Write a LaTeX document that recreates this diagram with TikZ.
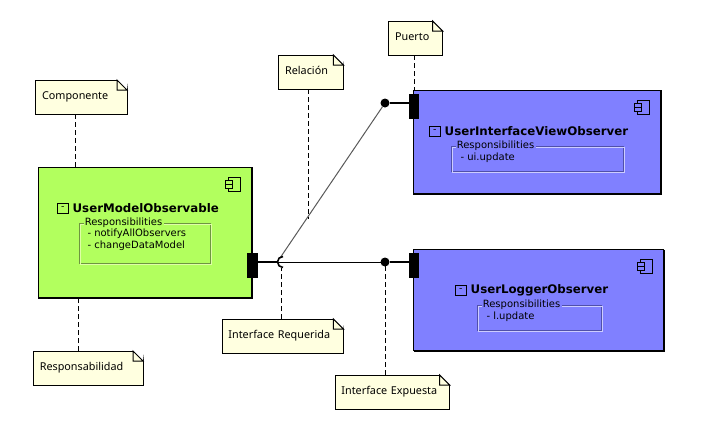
\documentclass[tikz,border=0pt]{standalone}
\usepackage{fontspec}
\setmainfont{Noto Sans}
\newfontfamily\boxfont{DejaVu Sans}
\usepackage{tikz}
\usetikzlibrary{positioning, calc}
\definecolor{notefill}{RGB}{255, 255, 224}
\definecolor{modelgreen}{RGB}{178, 255, 94}
\definecolor{viewblue}{RGB}{128, 128, 255}
\definecolor{etchgreen}{RGB}{110, 150, 64}
\definecolor{etchblue}{RGB}{80, 80, 170}
\definecolor{lightgreen}{RGB}{222, 255, 165}
\definecolor{lightblue}{RGB}{205, 205, 255}
% little sheet with a folded corner
\newcommand{\foldcorner}[1]{
  \fill[white] ([xshift=-7.5pt]#1.north east) -- ([xshift=1pt,yshift=1pt]#1.north east) -- ([yshift=-7.5pt]#1.north east) -- cycle;
  \draw[line width=0.75pt] ([xshift=-7.5pt]#1.north east) -- ([yshift=-7.5pt]#1.north east)
    -- ([xshift=-7.5pt,yshift=-7.5pt]#1.north east) -- cycle;
}
% component symbol, upper left corner at #1, filled with #2
\newcommand{\compicon}[2]{
  \begin{scope}[shift={(#1)}, line width=0.75pt]
    \draw (3,0) rectangle (15,14);
    \filldraw[fill=#2] (0,3) rectangle (7,7);
    \filldraw[fill=#2] (0,7) rectangle (7,11);
  \end{scope}
}
\begin{document}
\begin{tikzpicture}[x=0.75pt, y=-0.75pt, line width=0.75pt,
    notebox/.style={draw, fill=notefill, font=\fontsize{8.1}{9}\selectfont, anchor=north west, inner sep=0pt, outer sep=0pt, align=left, text height=6pt, text depth=2.8pt},
    compbox/.style={draw, anchor=north west, inner sep=0pt, outer sep=0pt},
    portbox/.style={fill=black, anchor=north west, inner sep=0pt, outer sep=0pt, minimum height=18.75pt},
    ball/.style={circle, fill=black, inner sep=0pt, outer sep=0pt, minimum size=6.75pt},
    minusbox/.style={draw, anchor=north west, inner sep=0pt, outer sep=0pt, minimum size=8pt, font=\boxfont\fontsize{7}{7}\selectfont},
    title/.style={anchor=west, inner sep=0pt, font=\boxfont\fontsize{8.85}{11}\selectfont\bfseries},
    resplabel/.style={anchor=west, inner sep=1pt, font=\boxfont\fontsize{7.5}{9}\selectfont},
    respitem/.style={anchor=west, inner sep=0pt, font=\boxfont\fontsize{7.5}{9}\selectfont},
    notelink/.style={dash pattern=on 3.5pt off 2.5pt, line width=0.75pt},
    shadow/.style={line width=1.5pt}]
  \useasboundingbox (0,0) rectangle (704,433);
  % Components
  \node[compbox, fill=modelgreen, minimum width=159.75pt, minimum height=98.25pt] (model) at (38.5,167) {};
  \node[compbox, fill=viewblue, minimum width=185.25pt, minimum height=78pt] (view) at (413.5,90) {};
  \node[compbox, fill=viewblue, minimum width=187.5pt, minimum height=75.75pt] (logger) at (413.5,249.5) {};
  \draw[shadow] (model.north east) -- (model.south east) -- (model.south west);
  \draw[shadow] (view.north east) -- (view.south east) -- (view.south west);
  \draw[shadow] (logger.north east) -- (logger.south east) -- (logger.south west);
  \compicon{225,177}{modelgreen}
  \compicon{634,100}{viewblue}
  \compicon{637,259}{viewblue}
  % Titles
  \node[minusbox] (minusM) at (57.5,203) {-};
  \node[title, right=3pt of minusM] (titleM) {UserModelObservable};
  \node[minusbox] (minusV) at (429.5,126) {-};
  \node[title, right=3pt of minusV] (titleV) {UserInterfaceViewObserver};
  \node[minusbox] (minusL) at (455.5,285) {-};
  \node[title, right=3pt of minusL] (titleL) {UserLoggerObserver};
  % Responsibilities of the model
  \draw[etchgreen] (79,223) rectangle (210.5,263.5);
  \draw[lightgreen] (80,224) rectangle (211.5,264.5);
  \node[resplabel, fill=modelgreen] (respM) at (83,223) {Responsibilities};
  \node[respitem] (itemMa) at (87,234) {- notifyAllObservers};
  \node[respitem] (itemMb) at (87,246) {- changeDataModel};
  % Responsibilities of the view
  \draw[etchblue] (451,146) rectangle (623.5,171.5);
  \draw[lightblue] (452,147) rectangle (624.5,172.5);
  \node[resplabel, fill=viewblue] (respV) at (455,146) {Responsibilities};
  \node[respitem] (itemV) at (460,158) {- ui.update};
  % Responsibilities of the logger
  \draw[etchblue] (477,305) rectangle (601.5,330.5);
  \draw[lightblue] (478,306) rectangle (602.5,331.5);
  \node[resplabel, fill=viewblue] (respL) at (481,305) {Responsibilities};
  \node[respitem] (itemL) at (486,317) {- l.update};
  % Ports and interfaces
  \node[portbox, minimum width=8.25pt] (portM) at (247,253) {};
  \node[portbox, minimum width=7.5pt] (portL) at (409,253) {};
  \node[portbox, minimum width=7.5pt] (portV) at (409,94) {};
  \node[ball] (ballV) at (385,103) {};
  \node[ball] (ballL) at (385,262) {};
  \coordinate (socket) at (283,262);
  \draw[line width=1.6pt] (portM.east |- socket) -- ($(socket)+(-5,0)$);
  \draw[line width=1.6pt] (ballL) -- (portL.west |- ballL);
  \draw[line width=1.6pt] (ballV) -- (portV.west |- ballV);
  \draw ($(socket)+(-5,0)$) -- (ballL);
  \draw[black!65] (ballV) -- ($(socket)+(-3,-4)$);
  \draw[line width=1.2pt] ([yshift=-4.1pt]socket) arc[start angle=90, end angle=270, radius=5.5];
  % Notes
  \node[notebox, minimum width=69pt, minimum height=25.5pt, text width=61pt] (noteComp) at (35,80) {\,Componente};
  \node[notebox, minimum width=41pt, minimum height=25.5pt, text width=33pt] (notePort) at (388,21) {\,Puerto};
  \node[notebox, minimum width=49pt, minimum height=25.5pt, text width=41pt] (noteRel) at (278,55) {\,Relación};
  \node[notebox, minimum width=91pt, minimum height=25.5pt, text width=84pt] (noteReq) at (222,319) {\,Interface Requerida};
  \node[notebox, minimum width=86pt, minimum height=25.5pt, text width=79pt] (noteExp) at (335,375) {\,Interface Expuesta};
  \node[notebox, minimum width=82.5pt, minimum height=25.5pt, text width=75pt] (noteResp) at (33,351) {\,Responsabilidad};
  \foldcorner{noteComp}
  \foldcorner{notePort}
  \foldcorner{noteRel}
  \foldcorner{noteReq}
  \foldcorner{noteExp}
  \foldcorner{noteResp}
  % Dashed links
  \coordinate (endComp) at (75,167);
  \coordinate (endPort) at (414,90);
  \coordinate (endRel) at (308,219);
  \coordinate (endReq) at (281,268);
  \coordinate (endExp) at (385,266);
  \coordinate (endResp) at (78,299);
  \draw[notelink] (noteComp.south -| endComp) -- (endComp);
  \draw[notelink] (notePort.south -| endPort) -- (endPort);
  \draw[notelink] (noteRel.south -| endRel) -- (endRel);
  \draw[notelink] (noteReq.north -| endReq) -- (endReq);
  \draw[notelink] (noteExp.north -| endExp) -- (endExp);
  \draw[notelink] (noteResp.north -| endResp) -- (endResp);
\end{tikzpicture}
\end{document}
